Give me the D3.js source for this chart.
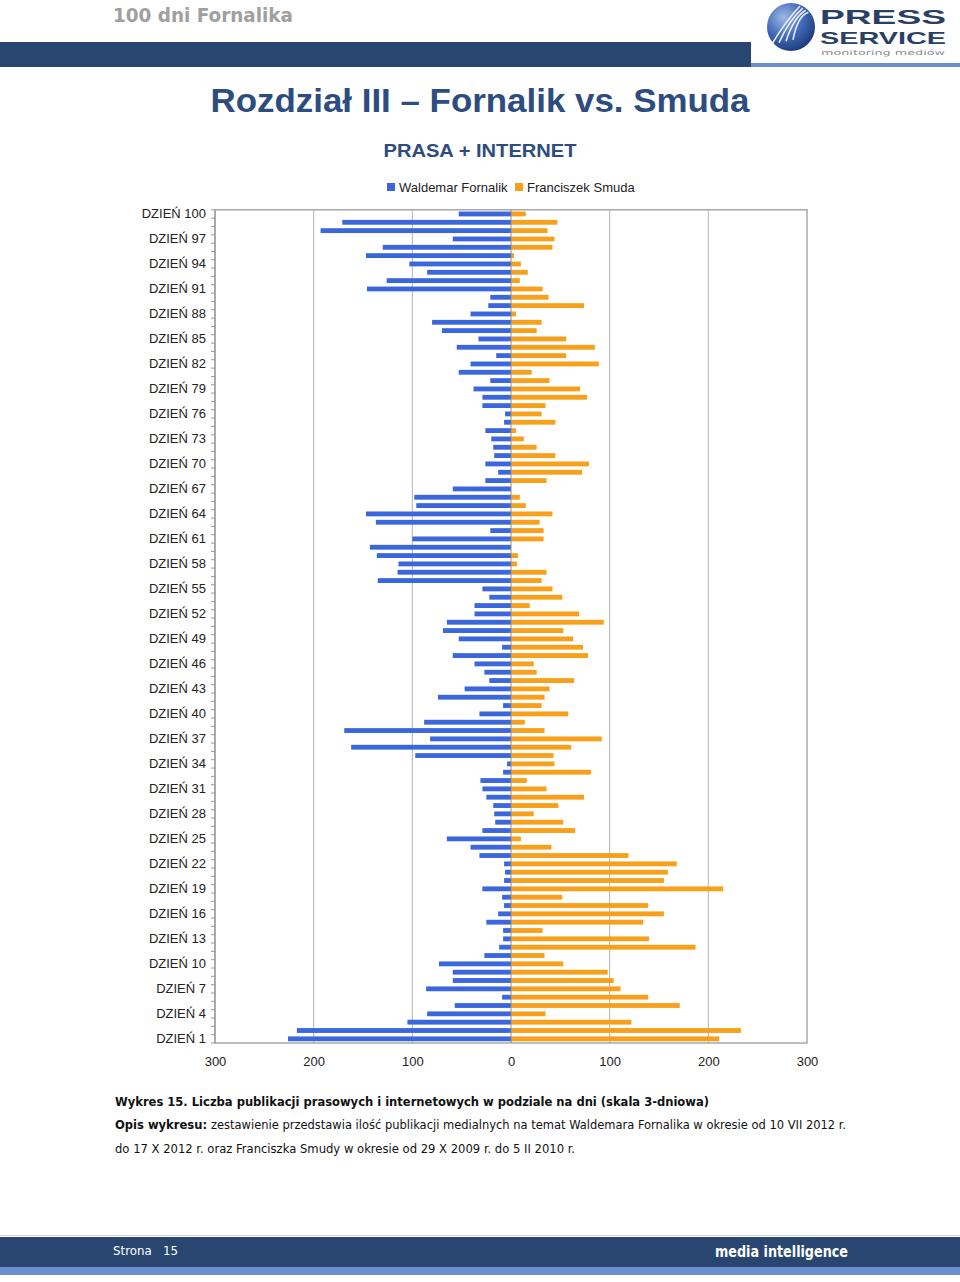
<!DOCTYPE html>
<html><head><meta charset="utf-8">
<script src="https://cdn.jsdelivr.net/npm/d3@7"></script>
<style>html,body{margin:0;padding:0;background:#fff;}svg{display:block;}</style>
</head><body>
<script>
// ---- DATA (days listed from 100 down to 1) ----
const days = d3.range(100, 0, -1);
const fornalik = [53,171,193,59,130,147,103,85,126,146,
21,23,41,80,70,33,55,15,41,53,
21,38,29,29,6,7,26,20,18,17,
26,13,26,59,98,96,147,137,21,100,
143,136,114,115,135,29,22,37,37,65,
69,53,9,59,37,27,22,47,74,8,
32,88,169,82,162,97,4,8,31,29,
25,18,17,16,29,65,41,32,7,6,
7,29,9,7,13,25,8,8,12,27,
73,59,59,86,9,57,85,105,217,226];
const smuda = [15,47,37,44,42,3,10,17,9,32,
38,74,5,31,26,56,85,56,89,21,
39,70,77,35,31,45,5,13,26,45,
79,72,36,0,9,15,42,29,33,33,
0,7,6,36,31,42,52,19,69,94,
53,63,73,78,23,26,64,39,34,31,
58,14,34,92,61,43,44,81,16,36,
74,48,23,53,65,10,41,119,168,159,
155,215,52,139,155,134,32,140,187,34,
53,98,104,111,139,171,35,122,233,211];
const seriesNames = ["Waldemar Fornalik", "Franciszek Smuda"];
const xTickValues = [-300,-200,-100,0,100,200,300];
const labelDays = d3.range(100, 0, -3);

const W = 960, H = 1282;
const svg = d3.select("body").append("svg").attr("width", W).attr("height", H);
const blue = "#3a67dc", orange = "#f7a01b", navy = "#284670", lightBlue = "#6b8fce";

// ---- header ----
svg.append("text").attr("x",113).attr("y",22).text("100 dni Fornalika")
  .attr("font-family","DejaVu Sans Condensed, Verdana, sans-serif").attr("font-weight","bold")
  .attr("font-size",20).attr("fill","#a0a0a0").attr("textLength",180).attr("lengthAdjust","spacingAndGlyphs");
svg.append("rect").attr("x",0).attr("y",42).attr("width",751).attr("height",25).attr("fill",navy);
svg.append("rect").attr("x",751).attr("y",63).attr("width",209).attr("height",4).attr("fill",lightBlue);

// logo
const defs = svg.append("defs");
const rg = defs.append("radialGradient").attr("id","lg").attr("cx","35%").attr("cy","30%").attr("r","75%");
rg.append("stop").attr("offset","0%").attr("stop-color","#9fb8e6");
rg.append("stop").attr("offset","55%").attr("stop-color","#4068b8");
rg.append("stop").attr("offset","100%").attr("stop-color","#1d3a78");
const logo = svg.append("g");
logo.append("circle").attr("cx",791).attr("cy",27).attr("r",24).attr("fill","url(#lg)");
[0,7,14,21].forEach(o=>{
  logo.append("path").attr("d",`M${772+o},${44-o*0.2} Q${785+o*0.6},${22-o*0.3} ${800+o*0.4},${6+o*0.3}`)
    .attr("stroke","#fff").attr("stroke-width",1.6).attr("fill","none").attr("opacity",0.85);
});
logo.append("text").attr("x",820).attr("y",24).attr("font-family","Liberation Sans, Arial, sans-serif")
  .attr("font-weight","bold").attr("fill","#2a3f66").attr("font-size",21).attr("textLength",126)
  .attr("lengthAdjust","spacingAndGlyphs").text("PRESS");
logo.append("text").attr("x",820).attr("y",44).attr("font-family","Liberation Sans, Arial, sans-serif")
  .attr("font-weight","bold").attr("fill","#2a3f66").attr("font-size",17).attr("textLength",126)
  .attr("lengthAdjust","spacingAndGlyphs").text("SERVICE");
logo.append("text").attr("x",821).attr("y",55).text("monitoring mediów").attr("font-family","DejaVu Sans, sans-serif")
  .attr("font-size",7).attr("fill","#8a8a8a").attr("textLength",124).attr("lengthAdjust","spacingAndGlyphs");

// ---- titles ----
svg.append("text").attr("x",480).attr("y",112).attr("text-anchor","middle").text("Rozdział III – Fornalik vs. Smuda")
  .attr("font-family","Liberation Sans, Arial, sans-serif").attr("font-weight","bold").attr("font-size",33)
  .attr("fill","#2d4c80").attr("textLength",539).attr("lengthAdjust","spacingAndGlyphs");
svg.append("text").attr("x",480).attr("y",157).attr("text-anchor","middle").text("PRASA + INTERNET")
  .attr("font-family","Liberation Sans, Arial, sans-serif").attr("font-weight","bold").attr("font-size",19)
  .attr("fill","#2d4c80").attr("textLength",193).attr("lengthAdjust","spacingAndGlyphs");

// legend
const leg = svg.append("g").attr("font-family","Liberation Sans, Arial, sans-serif").attr("font-size",13).attr("fill","#222");
leg.append("rect").attr("x",387).attr("y",183).attr("width",8).attr("height",8).attr("fill",blue);
leg.append("text").attr("x",399).attr("y",192).text(seriesNames[0]);
leg.append("rect").attr("x",515).attr("y",183).attr("width",8).attr("height",8).attr("fill",orange);
leg.append("text").attr("x",527).attr("y",192).text(seriesNames[1]);

// ---- chart ----
const L = 215, R = 807, T = 209.8, B = 1043;
const x = d3.scaleLinear().domain([-300,300]).range([L,R]);
const y = d3.scaleBand().domain(days).range([T,B]).paddingInner(0.42).paddingOuter(0.21);
const yb = d3.scaleBand().domain(days).range([T,B]);

const g = svg.append("g");
// grid
g.selectAll("line.grid").data(xTickValues.filter(v=>v!==0 && Math.abs(v)!==300)).join("line")
  .attr("x1",d=>x(d)).attr("x2",d=>x(d)).attr("y1",T).attr("y2",B).attr("stroke","#b4b4b4").attr("stroke-width",1);
g.append("rect").attr("x",L).attr("y",T).attr("width",R-L).attr("height",B-T)
  .attr("fill","none").attr("stroke","#a8a8a8").attr("stroke-width",1.5);

// bars
g.selectAll("rect.f").data(days).join("rect").attr("class","f")
  .attr("x",(d,i)=>x(-fornalik[i])).attr("width",(d,i)=>x(0)-x(-fornalik[i]))
  .attr("y",d=>y(d)).attr("height",y.bandwidth()).attr("fill",blue);
g.selectAll("rect.s").data(days).join("rect").attr("class","s")
  .attr("x",x(0)).attr("width",(d,i)=>x(smuda[i])-x(0))
  .attr("y",d=>y(d)).attr("height",y.bandwidth()).attr("fill",orange);

// zero line
g.append("line").attr("x1",x(0)).attr("x2",x(0)).attr("y1",T).attr("y2",B).attr("stroke","#8c8c8c").attr("stroke-width",1);

// left axis ticks at band boundaries
const bounds = days.map(d=>yb(d)).concat([B]);
g.selectAll("line.tk").data(bounds).join("line").attr("x1",L-4).attr("x2",L).attr("y1",d=>d).attr("y2",d=>d)
  .attr("stroke","#999").attr("stroke-width",1);
g.append("line").attr("x1",L).attr("x2",L).attr("y1",T).attr("y2",B).attr("stroke","#999");

// y labels
g.selectAll("text.yl").data(labelDays).join("text")
  .attr("x",206).attr("y",d=>yb(d)+yb.bandwidth()/2+4.5).attr("text-anchor","end")
  .attr("font-family","Liberation Sans, Arial, sans-serif").attr("font-size",13).attr("fill","#222")
  .text(d=>"DZIEŃ "+d);

// x axis labels
const xa = d3.axisBottom(x).tickValues(xTickValues).tickFormat(d=>Math.abs(d)).tickSize(0).tickPadding(10);
const xg = g.append("g").attr("transform",`translate(0,${B+4})`).call(xa);
xg.select(".domain").remove();
xg.selectAll("text").attr("font-family","Liberation Sans, Arial, sans-serif").attr("font-size",13).attr("fill","#222");

// ---- caption ----
const cf = "DejaVu Sans Condensed, Tahoma, Verdana, sans-serif";
svg.append("text").attr("x",115).attr("y",1106).text("Wykres 15. Liczba publikacji prasowych i internetowych w podziale na dni (skala 3-dniowa)")
  .attr("font-family",cf).attr("font-weight","bold").attr("font-size",13).attr("fill","#111")
  .attr("textLength",594).attr("lengthAdjust","spacingAndGlyphs");
svg.append("text").attr("x",115).attr("y",1129).text("Opis wykresu:")
  .attr("font-family",cf).attr("font-weight","bold").attr("font-size",13).attr("fill","#111")
  .attr("textLength",92).attr("lengthAdjust","spacingAndGlyphs");
svg.append("text").attr("x",211).attr("y",1129).text("zestawienie przedstawia ilość publikacji medialnych na temat Waldemara Fornalika w okresie od 10 VII 2012 r.")
  .attr("font-family",cf).attr("font-size",13).attr("fill","#111")
  .attr("textLength",635).attr("lengthAdjust","spacingAndGlyphs");
svg.append("text").attr("x",115).attr("y",1153).text("do 17 X 2012 r. oraz Franciszka Smudy w okresie od 29 X 2009 r. do 5 II 2010 r.")
  .attr("font-family",cf).attr("font-size",13).attr("fill","#111")
  .attr("textLength",460).attr("lengthAdjust","spacingAndGlyphs");

// ---- footer ----
svg.append("rect").attr("x",0).attr("y",1235).attr("width",W).attr("height",1).attr("fill","#d0d0d0");
svg.append("rect").attr("x",0).attr("y",1237).attr("width",W).attr("height",30).attr("fill",navy);
svg.append("rect").attr("x",0).attr("y",1267).attr("width",W).attr("height",8).attr("fill",lightBlue);
svg.append("text").attr("x",113).attr("y",1255).text("Strona   15").attr("font-family",cf).attr("font-size",13)
  .attr("fill","#fff").attr("xml:space","preserve").attr("textLength",65).attr("lengthAdjust","spacingAndGlyphs");
svg.append("text").attr("x",715).attr("y",1257).text("media intelligence").attr("font-family",cf).attr("font-weight","bold")
  .attr("font-size",15).attr("fill","#fff").attr("textLength",133).attr("lengthAdjust","spacingAndGlyphs");
</script>
</body></html>
